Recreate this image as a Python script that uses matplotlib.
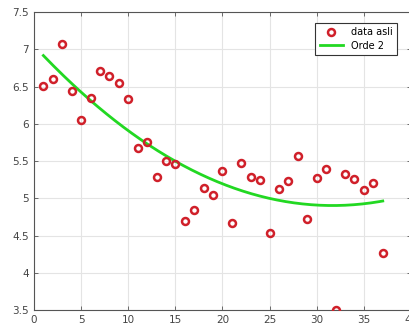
import numpy as np
import matplotlib as mpl
mpl.use('Agg')
import matplotlib.pyplot as plt

# data
xData = list(range(1, 38))
yData = [6.51, 6.60, 7.07, 6.44, 6.05, 6.34, 6.71, 6.64, 6.55, 6.33,
         5.68, 5.75, 5.28, 5.50, 5.46, 4.70, 4.84, 5.14, 5.04, 5.37,
         4.67, 5.48, 5.28, 5.24, 4.53, 5.12, 5.23, 5.57, 4.72, 5.27,
         5.39, 3.50, 5.32, 5.26, 5.11, 5.20, 4.26]
xTicks = [0, 5, 10, 15, 20, 25, 30, 35, 40]
yTicks = [3.5, 4, 4.5, 5, 5.5, 6, 6.5, 7, 7.5]
labels = ['data asli', 'Orde 2']

mpl.rcParams['font.family'] = 'DejaVu Sans'
mpl.rcParams['font.size'] = 7.5

fig = plt.figure(figsize=(4.09, 3.27), dpi=100)
ax = fig.add_axes([0.083, 0.052, 0.922, 0.911])

# order 2 fit of the data, like the original
coef = np.polyfit(xData, yData, 2)
xFit = np.linspace(min(xData), max(xData), 200)
yFit = np.polyval(coef, xFit)

ax.plot(xData, yData, 'o', markerfacecolor='none', markeredgecolor='#d0202a',
        markeredgewidth=1.8, markersize=5, label=labels[0], zorder=3)
ax.plot(xFit, yFit, color='#22d822', linewidth=2, label=labels[1], zorder=2)

ax.set_xlim(0, 40)
ax.set_ylim(3.5, 7.5)
ax.set_xticks(xTicks)
ax.set_yticks(yTicks)
ax.set_yticklabels(['3.5', '4', '4.5', '5', '5.5', '6', '6.5', '7', '7.5'])
ax.grid(True, color='#e4e4e4', linewidth=0.8)
ax.set_axisbelow(True)
ax.tick_params(direction='in', top=True, right=True, length=3,
               colors='#555555', labelcolor='#444444', width=0.6)
for s in ax.spines.values():
    s.set_color('#555555')
    s.set_linewidth(0.8)

leg = ax.legend(loc='upper right', bbox_to_anchor=(0.975, 0.98), fontsize=7,
                fancybox=False, framealpha=1, edgecolor='#333333',
                borderpad=0.45, handlelength=2.4, labelspacing=0.35)
leg.get_frame().set_linewidth(0.8)

plt.savefig('out.png', dpi=100)
plt.close('all')
